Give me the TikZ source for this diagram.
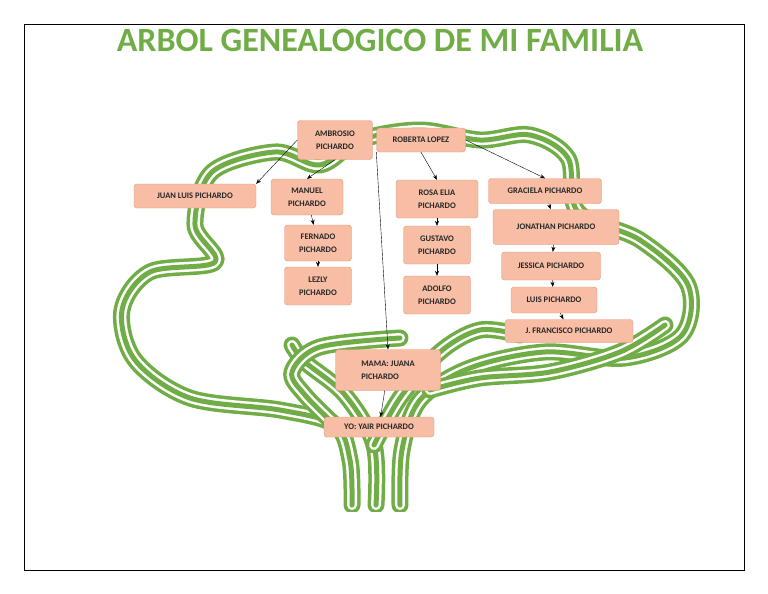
\documentclass[tikz,border=0pt]{standalone}
\usepackage{fontspec}
\setmainfont{Carlito}
\usetikzlibrary{positioning, arrows.meta}
\definecolor{leaf}{RGB}{112,173,71}
\definecolor{boxfill}{RGB}{247,190,165}
\definecolor{boxline}{RGB}{226,148,118}
\tikzset{
  person/.style={draw=boxline, fill=boxfill, rounded corners=3pt, align=center,
    font=\fontsize{8.5}{13}\selectfont\bfseries, text=black!85, inner sep=2pt},
  link/.style={-{Stealth[length=5pt,width=4pt]}, thin},
  band/.style={line width=17pt, leaf, line join=round, line cap=round},
  gap/.style={line width=10pt, white, line join=round, line cap=round},
  mid/.style={line width=5pt, leaf, line join=round, line cap=round},
}
\newcommand{\treeband}[1]{%
  \draw[band] #1; \draw[gap] #1; \draw[mid] #1;}
\begin{document}
\begin{tikzpicture}[x=1pt,y=-1pt]
\useasboundingbox (0,0) rectangle (768,594);

% crown and trunk
\treeband{plot[smooth, tension=0.55] coordinates {(352,505) (350,460) (335,425) (280,410) (190,398) (135,360) (122,310) (150,272) (215,262) (195,225) (212,172) (275,152) (320,165) (360,140) (420,130) (480,140) (530,135) (568,158) (578,212) (640,240) (688,285) (682,335) (625,358) (545,352) (470,368) (420,400) (402,450) (400,505)}}
% inner branches
\treeband{plot[smooth, tension=0.55] coordinates {(376,505) (374,445) (345,395) (305,362) (292,345)}}
\treeband{plot[smooth, tension=0.55] coordinates {(374,445) (400,398) (440,352) (480,330) (520,335)}}
\treeband{plot[smooth, tension=0.55] coordinates {(430,390) (480,378) (550,372) (620,352) (665,325)}}
\treeband{plot[smooth, tension=0.55] coordinates {(335,425) (305,395) (292,372) (320,347) (400,338)}}
% trunk cut
\fill[white] (320,512) rectangle (430,530);
\draw[black, thin] (24,24) rectangle (744,570);

\node[font=\fontsize{34}{36}\selectfont\bfseries, text=leaf] (title) at (380,40) {ARBOL GENEALOGICO DE MI FAMILIA};

\node[person, minimum width=75pt, minimum height=39pt] (ambrosio) at (335,140) {AMBROSIO\\PICHARDO};
\node[person, minimum width=89pt, minimum height=24pt] (roberta) at (421,140) {ROBERTA LOPEZ};
\node[person, minimum width=122pt, minimum height=24pt] (juanluis) at (195,196) {JUAN LUIS PICHARDO};
\node[person, minimum width=72pt, minimum height=36pt] (manuel) at (307,197) {MANUEL\\PICHARDO};
\node[person, minimum width=67pt, minimum height=36pt] (fernado) at (318,243) {FERNADO\\PICHARDO};
\node[person, minimum width=67pt, minimum height=38pt] (lezly) at (318,286) {LEZLY\\PICHARDO};
\node[person, minimum width=82pt, minimum height=38pt] (rosa) at (437,199) {ROSA ELIA\\PICHARDO};
\node[person, minimum width=67pt, minimum height=38pt] (gustavo) at (437,245) {GUSTAVO\\PICHARDO};
\node[person, minimum width=67pt, minimum height=38pt] (adolfo) at (437,295) {ADOLFO\\PICHARDO};
\node[person, minimum width=113pt, minimum height=25pt] (graciela) at (545,191) {GRACIELA PICHARDO};
\node[person, minimum width=126pt, minimum height=35pt] (jonathan) at (556,227) {JONATHAN PICHARDO};
\node[person, minimum width=99pt, minimum height=28pt] (jessica) at (551,266) {JESSICA PICHARDO};
\node[person, minimum width=86pt, minimum height=26pt] (luis) at (554,300) {LUIS PICHARDO};
\node[person, minimum width=128pt, minimum height=23pt] (francisco) at (569,331) {J. FRANCISCO PICHARDO};
\node[person, minimum width=105pt, minimum height=41pt, align=left] (mama) at (388,370) {MAMA: JUANA\\PICHARDO};
\node[person, minimum width=110pt, minimum height=20pt] (yo) at (379,427) {YO: YAIR PICHARDO};

\draw[link] (ambrosio.west) -- (juanluis.north east);
\draw[link] (ambrosio.south) -- (manuel.north);
\draw[link] (roberta.south) -- (rosa.north);
\draw[link] (roberta.east) -- (graciela.north);
\draw[link] (roberta.south west) -- (mama.north);
\draw[link] (manuel) -- (fernado);
\draw[link] (fernado) -- (lezly);
\draw[link] (rosa) -- (gustavo);
\draw[link] (gustavo) -- (adolfo);
\draw[link] (graciela) -- (jonathan);
\draw[link] (jonathan) -- (jessica);
\draw[link] (jessica) -- (luis);
\draw[link] (luis) -- (francisco);
\draw[link] (mama) -- (yo);
\end{tikzpicture}
\end{document}
